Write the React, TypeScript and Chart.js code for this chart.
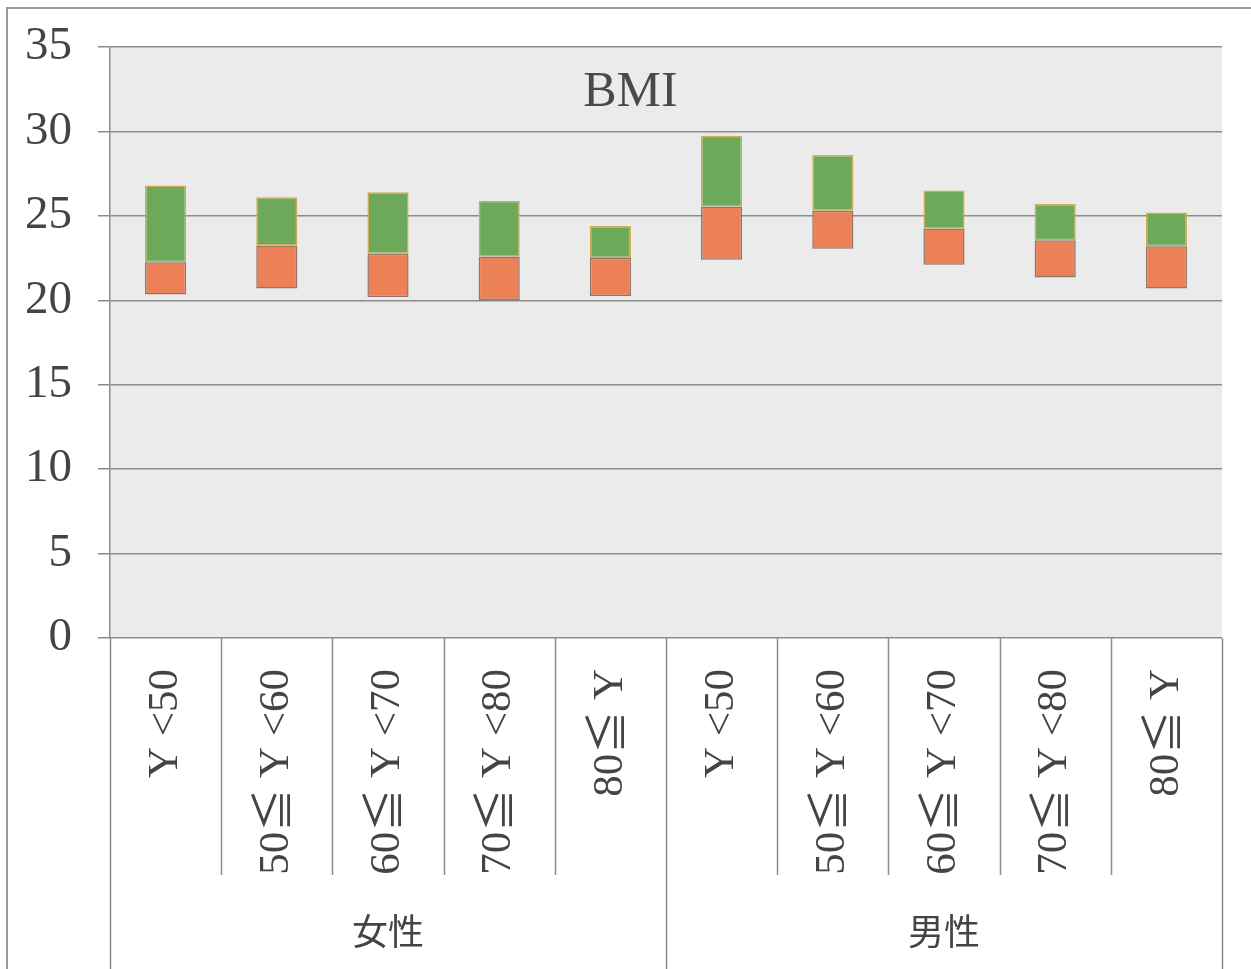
import React, { useEffect, useRef } from "react";
import { Chart, registerables } from "chart.js";

Chart.register(...registerables);

const categories = ["Y <50", "50≦ Y <60", "60≦ Y <70", "70≦ Y <80", "80≦ Y", "Y <50", "50≦ Y <60", "60≦ Y <70", "70≦ Y <80", "80≦ Y"];
const groups = ["女性", "男性"];
const groupSize = 5;
const lowValues = [20.35, 20.7, 20.2, 20.0, 20.25, 22.4, 23.05, 22.1, 21.35, 20.7];
const midValues = [22.25, 23.25, 22.75, 22.6, 22.5, 25.55, 25.3, 24.25, 23.55, 23.2];
const highValues = [26.8, 26.1, 26.4, 25.9, 24.4, 29.75, 28.6, 26.5, 25.7, 25.2];
const chartTitle = "BMI";

const W = 1251;
const H = 969;

const decorPlugin = {
  id: "decor",
  beforeDraw(chart: any) {
    const { ctx, chartArea } = chart;
    ctx.save();
    ctx.fillStyle = "#ffffff";
    ctx.fillRect(0, 0, W, H);
    ctx.fillStyle = "#ebebeb";
    ctx.fillRect(chartArea.left, chartArea.top, chartArea.right - chartArea.left, chartArea.bottom - chartArea.top);
    ctx.strokeStyle = "#9a9a9a";
    ctx.lineWidth = 2;
    ctx.beginPath();
    ctx.moveTo(7, H);
    ctx.lineTo(7, 8);
    ctx.lineTo(W, 8);
    ctx.stroke();
    ctx.restore();
  },
  afterDraw(chart: any) {
    const { ctx, chartArea } = chart;
    const n = categories.length;
    const step = (chartArea.right - chartArea.left) / n;
    ctx.save();
    ctx.strokeStyle = "#8c8c8c";
    ctx.lineWidth = 1.5;
    for (let i = 0; i <= n; i++) {
      const x = Math.round(chartArea.left + step * i) + 0.5;
      const isGroup = i % groupSize === 0;
      ctx.beginPath();
      ctx.moveTo(x, chartArea.bottom);
      ctx.lineTo(x, isGroup ? H : chartArea.bottom + 237);
      ctx.stroke();
    }
    ctx.fillStyle = "#444";
    ctx.font = "36px 'Noto Sans CJK JP'";
    ctx.textAlign = "center";
    ctx.textBaseline = "middle";
    groups.forEach((g, gi) => {
      const x = chartArea.left + step * (gi * groupSize + groupSize / 2);
      ctx.fillText(g, x, 931);
    });
    ctx.fillStyle = "#4a4a4a";
    ctx.font = "50px 'Liberation Serif'";
    ctx.fillText(chartTitle, chartArea.left + (chartArea.right - chartArea.left) * 0.468, 93);
    ctx.restore();
  },
};

export default function App() {
  const ref = useRef<HTMLCanvasElement | null>(null);
  useEffect(() => {
    if (!ref.current) return;
    const lower = lowValues.map((v, i) => [v, midValues[i]]);
    const upper = midValues.map((v, i) => [v, highValues[i]]);
    const chart = new Chart(ref.current, {
      type: "bar",
      data: {
        labels: categories,
        datasets: [
          {
            label: "lower",
            data: lower as any,
            backgroundColor: "#ec8157",
            borderColor: "#8f7668",
            borderWidth: 1.5,
            borderSkipped: false,
          },
          {
            label: "upper",
            data: upper as any,
            backgroundColor: "#6ca95b",
            borderColor: "#d2ac4e",
            borderWidth: 1.5,
            borderSkipped: false,
          },
        ],
      },
      options: {
        animation: false,
        responsive: false,
        maintainAspectRatio: false,
        layout: { padding: { left: 0, right: 29, top: 47, bottom: 0 } },
        datasets: { bar: { grouped: false, barPercentage: 0.37, categoryPercentage: 1 } } as any,
        plugins: { legend: { display: false }, tooltip: { enabled: false }, title: { display: false } },
        scales: {
          x: {
            grid: { display: false },
            border: { display: false },
            afterFit(scale: any) {
              scale.height = 331;
              scale.paddingLeft = 0;
              scale.paddingRight = 0;
              scale.paddingTop = 0;
              scale.paddingBottom = 0;
            },
            ticks: {
              minRotation: 90,
              maxRotation: 90,
              autoSkip: false,
              padding: 23,
              color: "#444",
              font: { family: "'Liberation Serif', 'Noto Sans CJK JP'", size: 43 },
            },
          },
          y: {
            min: 0,
            max: 35,
            afterFit(scale: any) {
              scale.width = 110;
              scale.paddingTop = 0;
              scale.paddingBottom = 0;
            },
            grid: { color: "#8c8c8c", lineWidth: 1.5, tickLength: 12, drawTicks: true },
            border: { display: true, color: "#8c8c8c", width: 1.5 },
            ticks: {
              stepSize: 5,
              padding: 26,
              color: "#444",
              font: { family: "'Liberation Serif'", size: 47 },
            },
          },
        },
      },
      plugins: [decorPlugin],
    });
    return () => chart.destroy();
  }, []);
  return (
    <div style={{ position: "absolute", left: 0, top: 0, width: W, height: H }}>
      <canvas ref={ref} width={W} height={H} style={{ width: W, height: H, display: "block" }} />
    </div>
  );
}
